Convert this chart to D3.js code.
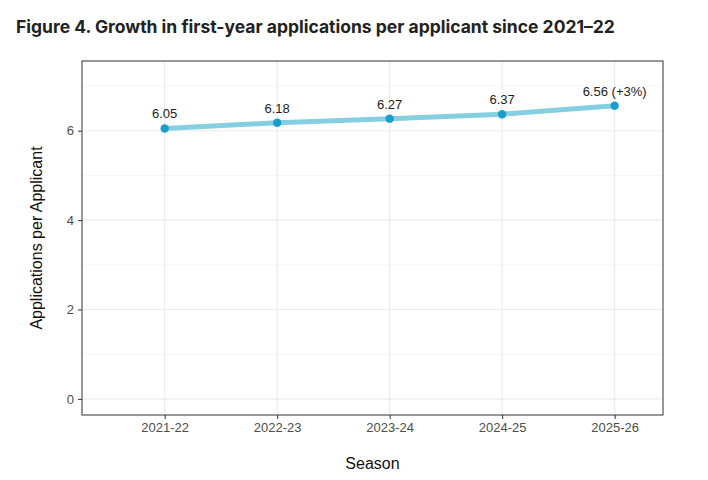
<!DOCTYPE html>
<html>
<head>
<meta charset="utf-8">
<script src="https://cdn.jsdelivr.net/npm/d3@7"></script>
<style>
  body { margin: 0; background: #fff; }
  svg { display: block; }
</style>
</head>
<body>
<div id="chart"></div>
<script>
// Data
var seasons = ["2021-22", "2022-23", "2023-24", "2024-25", "2025-26"];
var appsPerApplicant = [6.05, 6.18, 6.27, 6.37, 6.56];
var pointLabels = ["6.05", "6.18", "6.27", "6.37", "6.56 (+3%)"];
var yTicks = [0, 2, 4, 6];
var yMinorTicks = [1, 3, 5, 7];

var width = 708, height = 480;
var margin = {top: 61, right: 45, bottom: 65, left: 82};
var plotW = width - margin.left - margin.right;
var plotH = height - margin.top - margin.bottom;

var svg = d3.select("#chart")
    .append("svg")
    .attr("width", width)
    .attr("height", height);

// Title
svg.append("text")
    .attr("x", 16)
    .attr("y", 33)
    .attr("font-family", "Inter, sans-serif")
    .attr("font-weight", "bold")
    .attr("font-size", "17.5px")
    .attr("fill", "#222")
    .text("Figure 4. Growth in first-year applications per applicant since 2021\u201322");

var g = svg.append("g")
    .attr("transform", "translate(" + margin.left + "," + margin.top + ")");

// x is a discrete axis, placed with a linear index scale
var xScale = d3.scaleLinear()
    .domain([-0.735, seasons.length - 1 + 0.43])
    .range([0, plotW]);

var yScale = d3.scaleLinear()
    .domain([-0.36, 7.56])
    .range([plotH, 0]);

// grid lines
g.selectAll(".minor")
    .data(yMinorTicks)
    .enter()
    .append("line")
    .attr("x1", 0)
    .attr("x2", plotW)
    .attr("y1", function(d) { return yScale(d); })
    .attr("y2", function(d) { return yScale(d); })
    .attr("stroke", "#f2f2f2")
    .attr("stroke-width", 0.8);

g.selectAll(".major-y")
    .data(yTicks)
    .enter()
    .append("line")
    .attr("x1", 0)
    .attr("x2", plotW)
    .attr("y1", function(d) { return yScale(d); })
    .attr("y2", function(d) { return yScale(d); })
    .attr("stroke", "#ebebeb")
    .attr("stroke-width", 1.2);

g.selectAll(".major-x")
    .data(seasons)
    .enter()
    .append("line")
    .attr("x1", function(d, i) { return xScale(i); })
    .attr("x2", function(d, i) { return xScale(i); })
    .attr("y1", 0)
    .attr("y2", plotH)
    .attr("stroke", "#ebebeb")
    .attr("stroke-width", 1.2);

// Axes
var xAxis = d3.axisBottom(xScale)
    .tickValues(d3.range(seasons.length))
    .tickFormat(function(d) { return seasons[d]; })
    .tickSize(4)
    .tickPadding(4);

var yAxis = d3.axisLeft(yScale)
    .tickValues(yTicks)
    .tickSize(4)
    .tickPadding(4);

var xg = g.append("g")
    .attr("transform", "translate(0," + plotH + ")")
    .call(xAxis);

var yg = g.append("g")
    .call(yAxis);

[xg, yg].forEach(function(ax) {
    ax.select(".domain").remove();
    ax.selectAll(".tick line").attr("stroke", "#333").attr("stroke-width", 1);
    ax.selectAll(".tick text")
        .attr("fill", "#4d4d4d")
        .attr("font-family", "Liberation Sans, Arial, sans-serif")
        .attr("font-size", "13px");
});

// panel border
g.append("rect")
    .attr("x", 0)
    .attr("y", 0)
    .attr("width", plotW)
    .attr("height", plotH)
    .attr("fill", "none")
    .attr("stroke", "#333")
    .attr("stroke-width", 1);

// axis titles
svg.append("text")
    .attr("x", margin.left + plotW / 2)
    .attr("y", 469)
    .attr("text-anchor", "middle")
    .attr("font-family", "Liberation Sans, Arial, sans-serif")
    .attr("font-size", "16px")
    .attr("fill", "#111")
    .text("Season");

svg.append("text")
    .attr("transform", "translate(42," + (margin.top + plotH / 2) + ") rotate(-90)")
    .attr("text-anchor", "middle")
    .attr("font-family", "Liberation Sans, Arial, sans-serif")
    .attr("font-size", "16px")
    .attr("fill", "#111")
    .text("Applications per Applicant");

// the line
var line = d3.line()
    .x(function(d, i) { return xScale(i); })
    .y(function(d) { return yScale(d); });

g.append("path")
    .datum(appsPerApplicant)
    .attr("d", line)
    .attr("fill", "none")
    .attr("stroke", "#86cfe3")
    .attr("stroke-width", 5)
    .attr("stroke-linejoin", "round")
    .attr("stroke-linecap", "round");

g.selectAll(".pt")
    .data(appsPerApplicant)
    .enter()
    .append("circle")
    .attr("cx", function(d, i) { return xScale(i); })
    .attr("cy", function(d) { return yScale(d); })
    .attr("r", 4.2)
    .attr("fill", "#1a9fcb");

g.selectAll(".lbl")
    .data(appsPerApplicant)
    .enter()
    .append("text")
    .attr("x", function(d, i) { return xScale(i); })
    .attr("y", function(d) { return yScale(d) - 10; })
    .attr("text-anchor", "middle")
    .attr("font-family", "Liberation Sans, Arial, sans-serif")
    .attr("font-size", "13px")
    .attr("fill", "#222")
    .text(function(d, i) { return pointLabels[i]; });
</script>
</body>
</html>
